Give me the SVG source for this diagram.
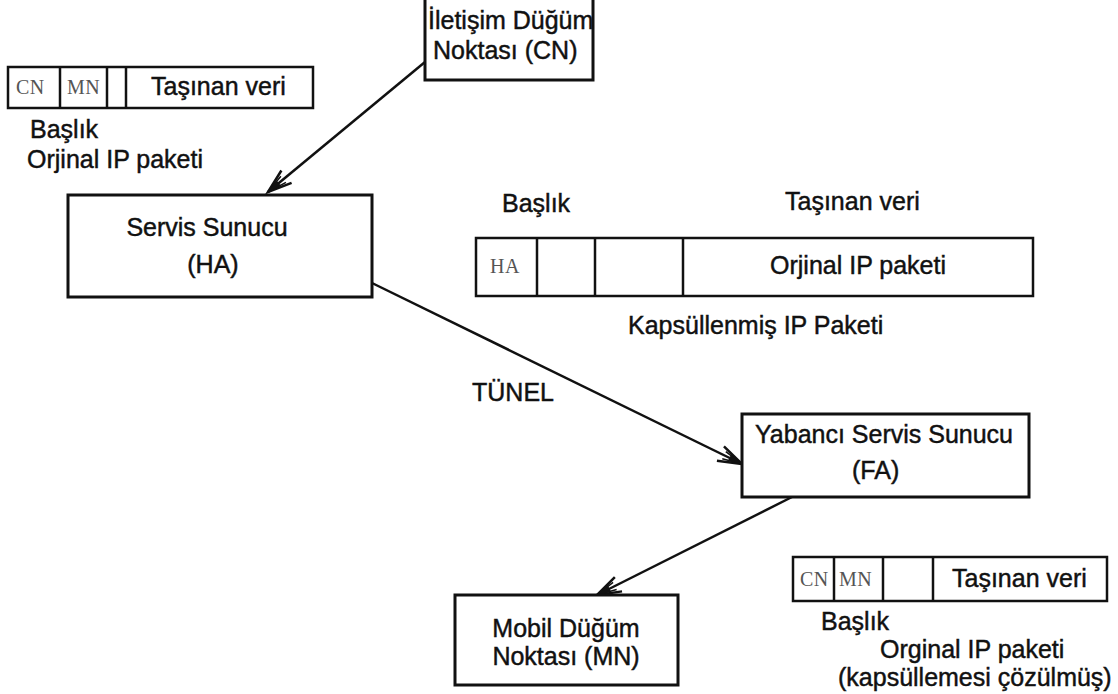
<svg xmlns="http://www.w3.org/2000/svg" width="1118" height="694" viewBox="0 0 1118 694">
  <style>
    .box { fill: #fff; stroke: #111; stroke-width: 3; }
    .cell { fill: none; stroke: #111; stroke-width: 2.5; }
    .t { font-family: "Liberation Sans", Arial, sans-serif; font-size: 25px; fill: #111; stroke: #111; stroke-width: 0.45; }
    .s { font-family: "Liberation Serif", "Times New Roman", serif; font-size: 20px; fill: #555; letter-spacing: 0.5px; }
    .wire { fill: none; stroke: #111; stroke-width: 2.5; }
  </style>
  <defs>
    <marker id="barb" markerUnits="userSpaceOnUse" viewBox="-26 -12 30 24" markerWidth="30" markerHeight="24" refX="0" refY="0" orient="auto" overflow="visible">
      <path d="M-24,-8 L0,0 L-24,8" fill="none" stroke="#111" stroke-width="2.5"/>
      <path d="M-20,-4 L0,0 L-20,4" fill="none" stroke="#111" stroke-width="1.5"/>
      <path d="M0,0 L-14,-3.5 L-14,3.5 Z" fill="#111"/>
    </marker>
  </defs>
  <rect width="1118" height="694" fill="#fff"/>

  <!-- connectors -->
  <g id="connectors">
    <line class="wire" x1="425" y1="62" x2="268" y2="192" marker-end="url(#barb)"/>
    <line class="wire" x1="372" y1="283" x2="742" y2="464" marker-end="url(#barb)"/>
    <line class="wire" x1="792" y1="497" x2="597" y2="595" marker-end="url(#barb)"/>
    <text class="t" x="472" y="401">TÜNEL</text>
  </g>

  <!-- original packet at the correspondent node -->
  <g id="packet-original">
    <rect class="cell" x="8" y="67" width="305" height="41"/>
    <line class="cell" x1="60" y1="67" x2="60" y2="108"/>
    <line class="cell" x1="107" y1="67" x2="107" y2="108"/>
    <line class="cell" x1="126" y1="67" x2="126" y2="108"/>
    <text class="s" x="16" y="94">CN</text>
    <text class="s" x="67" y="94">MN</text>
    <text class="t" x="151" y="95">Taşınan veri</text>
    <text class="t" x="30" y="138">Başlık</text>
    <text class="t" x="27" y="168">Orjinal IP paketi</text>
  </g>

  <g id="node-cn">
    <rect class="box" x="425" y="-2" width="168" height="82"/>
    <text class="t" x="428" y="29">İletişim Düğüm</text>
    <text class="t" x="433" y="59">Noktası (CN)</text>
  </g>

  <g id="node-ha">
    <rect class="box" x="68" y="195" width="304" height="102"/>
    <text class="t" x="207" y="236" text-anchor="middle">Servis Sunucu</text>
    <text class="t" x="213" y="273" text-anchor="middle">(HA)</text>
  </g>

  <!-- encapsulated packet in the tunnel -->
  <g id="packet-encapsulated">
    <text class="t" x="502" y="212">Başlık</text>
    <text class="t" x="785" y="210">Taşınan veri</text>
    <rect class="cell" x="476" y="238" width="557" height="58"/>
    <line class="cell" x1="537" y1="238" x2="537" y2="296"/>
    <line class="cell" x1="595" y1="238" x2="595" y2="296"/>
    <line class="cell" x1="683" y1="238" x2="683" y2="296"/>
    <text class="s" x="490" y="273">HA</text>
    <text class="t" x="770" y="274">Orjinal IP paketi</text>
    <text class="t" x="628" y="334">Kapsüllenmiş IP Paketi</text>
  </g>

  <g id="node-fa">
    <rect class="box" x="742" y="414" width="287" height="83"/>
    <text class="t" x="755" y="443">Yabancı Servis Sunucu</text>
    <text class="t" x="852" y="479">(FA)</text>
  </g>

  <g id="node-mn">
    <rect class="box" x="455" y="595" width="223" height="90"/>
    <text class="t" x="566" y="637" text-anchor="middle">Mobil Düğüm</text>
    <text class="t" x="566" y="665" text-anchor="middle">Noktası (MN)</text>
  </g>

  <!-- decapsulated packet delivered to the mobile node -->
  <g id="packet-decapsulated">
    <rect class="cell" x="793" y="557" width="314" height="44"/>
    <line class="cell" x1="834" y1="557" x2="834" y2="601"/>
    <line class="cell" x1="883" y1="557" x2="883" y2="601"/>
    <line class="cell" x1="933" y1="557" x2="933" y2="601"/>
    <text class="s" x="800" y="586">CN</text>
    <text class="s" x="839" y="586">MN</text>
    <text class="t" x="952" y="587">Taşınan veri</text>
    <text class="t" x="821" y="630">Başlık</text>
    <text class="t" x="880" y="658">Orginal IP paketi</text>
    <text class="t" x="838" y="686">(kapsüllemesi çözülmüş)</text>
  </g>
</svg>
